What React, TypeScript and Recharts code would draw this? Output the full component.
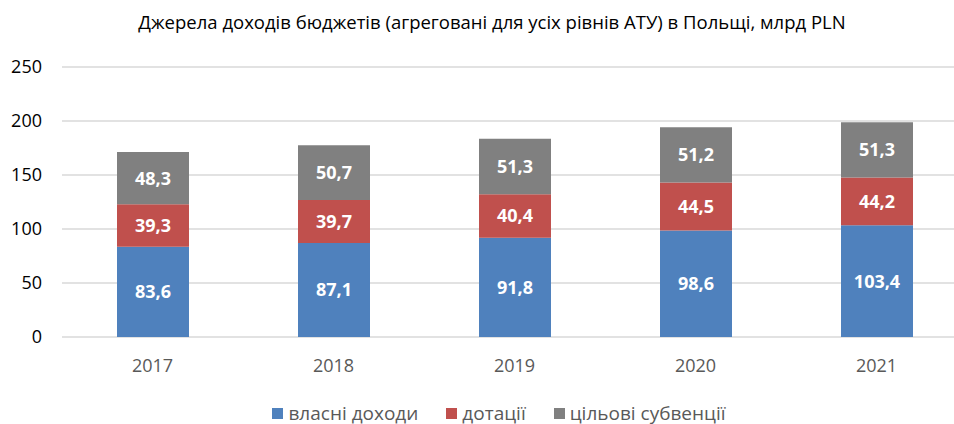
import { BarChart, Bar, XAxis, YAxis, CartesianGrid, LabelList } from 'recharts';

const years = ['2017', '2018', '2019', '2020', '2021'];
const ownRevenue = [83.6, 87.1, 91.8, 98.6, 103.4];
const grants = [39.3, 39.7, 40.4, 44.5, 44.2];
const subsidies = [48.3, 50.7, 51.3, 51.2, 51.3];
const yTicks = [0, 50, 100, 150, 200, 250];

const SERIES = [
  { key: 'own', name: 'власні доходи', color: '#4F81BD' },
  { key: 'grants', name: 'дотації', color: '#C0504D' },
  { key: 'subsidies', name: 'цільові субвенції', color: '#808080' },
];

const data = years.map((year, i) => ({
  year,
  own: ownRevenue[i],
  grants: grants[i],
  subsidies: subsidies[i],
}));

const FONT = '"Open Sans", sans-serif';
const fmt = (v: any) => String(v).replace('.', ',');

export default function App() {
  return (
    <div style={{ position: 'absolute', top: 0, left: 0, width: 954, height: 424, overflow: 'hidden', background: '#fff', fontFamily: FONT }}>
      <div style={{ position: 'absolute', top: 9, left: 0, width: 984, textAlign: 'center', fontSize: 18.5, color: '#000', whiteSpace: 'nowrap' }}>
        Джерела доходів бюджетів (агреговані для усіх рівнів АТУ) в Польщі, млрд PLN
      </div>
      <BarChart
        width={970}
        height={424}
        data={data}
        margin={{ top: 67, right: 3, left: 0, bottom: 57 }}
        style={{ fontFamily: FONT }}
      >
        <CartesianGrid vertical={false} stroke="#D9D9D9" strokeWidth={1.5} />
        <XAxis
          dataKey="year"
          axisLine={false}
          tickLine={false}
          tickMargin={16}
          tick={{ fill: '#595959', fontSize: 18 }}
        />
        <YAxis
          width={62}
          domain={[0, 250]}
          ticks={yTicks}
          axisLine={false}
          tickLine={false}
          tickMargin={14}
          tick={{ fill: '#000', fontSize: 18 }}
        />
        {SERIES.map(s => (
          <Bar
            key={s.key}
            dataKey={s.key}
            name={s.name}
            stackId="a"
            fill={s.color}
            barSize={72}
            isAnimationActive={false}
          >
            <LabelList
              dataKey={s.key}
              position="center"
              formatter={fmt}
              fill="#fff"
              fontSize={18}
              fontWeight="bold"
            />
          </Bar>
        ))}
      </BarChart>
      <div style={{ position: 'absolute', top: 403, left: 0, width: 998, height: 20, lineHeight: '20px', display: 'flex', justifyContent: 'center', gap: 28, fontSize: 19, color: '#595959', whiteSpace: 'nowrap' }}>
        {SERIES.map(s => (
          <div key={s.key} style={{ display: 'flex', alignItems: 'center', gap: 5 }}>
            <span style={{ width: 11, height: 11, background: s.color, display: 'inline-block' }} />
            <span>{s.name}</span>
          </div>
        ))}
      </div>
    </div>
  );
}
